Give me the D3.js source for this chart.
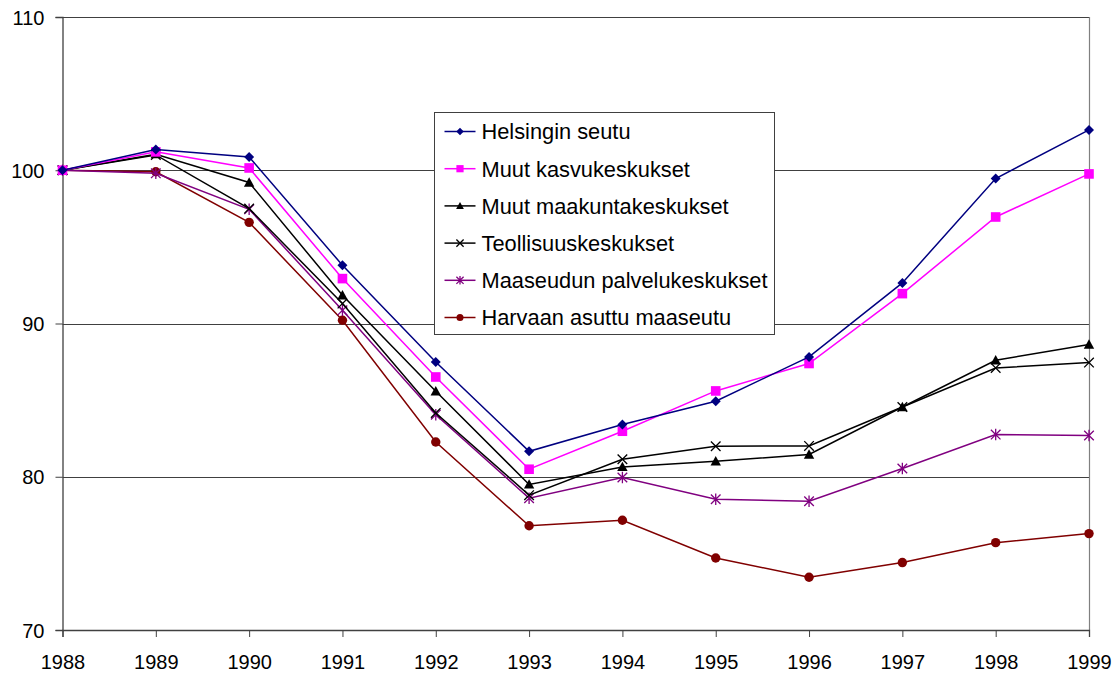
<!DOCTYPE html>
<html>
<head>
<meta charset="utf-8">
<script src="https://cdn.jsdelivr.net/npm/d3@7/dist/d3.min.js"></script>
<style>
  html, body { margin: 0; padding: 0; background: #fff; }
  svg { display: block; font-family: "Liberation Sans", Arial, sans-serif; }
</style>
</head>
<body>
<svg id="chart" width="1116" height="675"></svg>
<script>
const years = [1988, 1989, 1990, 1991, 1992, 1993, 1994, 1995, 1996, 1997, 1998, 1999];
const yTicks = [70, 80, 90, 100, 110];

const seriesNames = [
  "Helsingin seutu",
  "Muut kasvukeskukset",
  "Muut maakuntakeskukset",
  "Teollisuuskeskukset",
  "Maaseudun palvelukeskukset",
  "Harvaan asuttu maaseutu"
];

const helsinki   = [100, 101.35, 100.87, 93.8, 87.49, 81.66, 83.41, 84.93, 87.82, 92.65, 99.46, 102.63];
const kasvu      = [100, 101.2, 100.15, 92.93, 86.51, 80.49, 82.97, 85.6, 87.39, 91.95, 96.95, 99.76];
const maakunta   = [100, 101.05, 99.2, 91.84, 85.58, 79.5, 80.64, 81.01, 81.45, 84.55, 87.6, 88.63];
const teollisuus = [100, 101.0, 97.5, 91.3, 84.16, 78.8, 81.14, 81.99, 82.01, 84.55, 87.1, 87.45];
const maaseudun  = [100, 99.8, 97.45, 90.86, 84.05, 78.6, 79.95, 78.53, 78.4, 80.54, 82.75, 82.69];
const harvaan    = [100, 99.9, 96.6, 90.21, 82.27, 76.8, 77.16, 74.7, 73.44, 74.4, 75.7, 76.29];

const seriesValues = [helsinki, kasvu, maakunta, teollisuus, maaseudun, harvaan];
const seriesColors = ["#000080", "#FF00FF", "#000000", "#000000", "#800080", "#800000"];
const seriesMarkers = ["diamond", "square", "triangle", "x", "asterisk", "circle"];

(function () {
const svg = d3.select("#chart");
const pLeft = 62.5, pRight = 1089, pTop = 17, pBottom = 630;

const x = d3.scaleLinear().domain([1988, 1999]).range([pLeft, pRight]);
const y = d3.scaleLinear().domain([70, 110]).range([pBottom, pTop]);

// gridlines
svg.append("g").selectAll("line").data(yTicks.filter(t => t !== 70)).join("line")
  .attr("x1", pLeft).attr("x2", pRight)
  .attr("y1", d => Math.round(y(d)) + 0.5).attr("y2", d => Math.round(y(d)) + 0.5)
  .attr("stroke", "#404040").attr("stroke-width", 1);

// right border
svg.append("line").attr("x1", pRight + 0.5).attr("x2", pRight + 0.5)
  .attr("y1", pTop).attr("y2", pBottom).attr("stroke", "#808080").attr("stroke-width", 1.2);

// axes
const yAxis = d3.axisLeft(y).tickValues(yTicks).tickSize(7).tickPadding(11).tickFormat(d3.format("d"));
const gy = svg.append("g").attr("transform", `translate(${pLeft},0)`).call(yAxis);
const xAxis = d3.axisBottom(x).tickValues(years).tickSize(7).tickPadding(18).tickFormat(d3.format("d"));
const gx = svg.append("g").attr("transform", `translate(0,${pBottom})`).call(xAxis);

[gy, gx].forEach(g => {
  g.select(".domain").attr("stroke", "#404040").attr("stroke-width", 1.3);
  g.selectAll(".tick line").attr("stroke", "#404040");
  g.selectAll(".tick text").attr("fill", "#000").style("font-size", "20px")
    .style("font-family", '"Liberation Sans", Arial, sans-serif');
});
gy.selectAll(".tick text").attr("dy", "0.35em");

function drawMarker(g, type, cx, cy, color, s) {
  s = s || 1;
  if (type === "diamond") {
    const r = 5 * s;
    g.append("path").attr("d", `M${cx},${cy - r}L${cx + r},${cy}L${cx},${cy + r}L${cx - r},${cy}Z`).attr("fill", color);
  } else if (type === "square") {
    const r = 4.8 * s;
    g.append("rect").attr("x", cx - r).attr("y", cy - r).attr("width", 2 * r).attr("height", 2 * r).attr("fill", color);
  } else if (type === "triangle") {
    const r = 5.2 * s;
    g.append("path").attr("d", `M${cx},${cy - r}L${cx + r},${cy + r * 0.8}L${cx - r},${cy + r * 0.8}Z`).attr("fill", color);
  } else if (type === "x") {
    const r = 4.8 * s;
    g.append("path").attr("d", `M${cx - r},${cy - r}L${cx + r},${cy + r}M${cx - r},${cy + r}L${cx + r},${cy - r}`)
      .attr("stroke", color).attr("stroke-width", 1.3).attr("fill", "none");
  } else if (type === "asterisk") {
    const r = 4.8 * s;
    g.append("path").attr("d", `M${cx - r},${cy - r}L${cx + r},${cy + r}M${cx - r},${cy + r}L${cx + r},${cy - r}M${cx},${cy - r * 1.2}L${cx},${cy + r * 1.2}`)
      .attr("stroke", color).attr("stroke-width", 1.3).attr("fill", "none");
  } else if (type === "circle") {
    g.append("circle").attr("cx", cx).attr("cy", cy).attr("r", 4.7 * s).attr("fill", color);
  }
}

const line = d3.line().x((d, i) => x(years[i])).y(d => y(d));

for (let k = seriesValues.length - 1; k >= 0; k--) {
  const vals = seriesValues[k];
  const g = svg.append("g");
  g.append("path").datum(vals).attr("d", line)
    .attr("fill", "none").attr("stroke", seriesColors[k]).attr("stroke-width", 1.5);
  vals.forEach((v, i) => drawMarker(g, seriesMarkers[k], x(years[i]), y(v), seriesColors[k], 1));
}

// legend
const lg = svg.append("g").attr("transform", "translate(434.5,112.5)");
lg.append("rect").attr("width", 340).attr("height", 222)
  .attr("fill", "#fff").attr("stroke", "#404040").attr("stroke-width", 1);
seriesNames.forEach((name, k) => {
  const ry = 19 + k * 37.2;
  lg.append("line").attr("x1", 10).attr("x2", 41).attr("y1", ry).attr("y2", ry)
    .attr("stroke", seriesColors[k]).attr("stroke-width", 1.5);
  drawMarker(lg, seriesMarkers[k], 25.5, ry, seriesColors[k], 0.75);
  lg.append("text").attr("x", 47).attr("y", ry).attr("dy", "0.36em")
    .style("font-size", "21.8px").attr("fill", "#000").text(name);
});
})();
</script>
</body>
</html>
